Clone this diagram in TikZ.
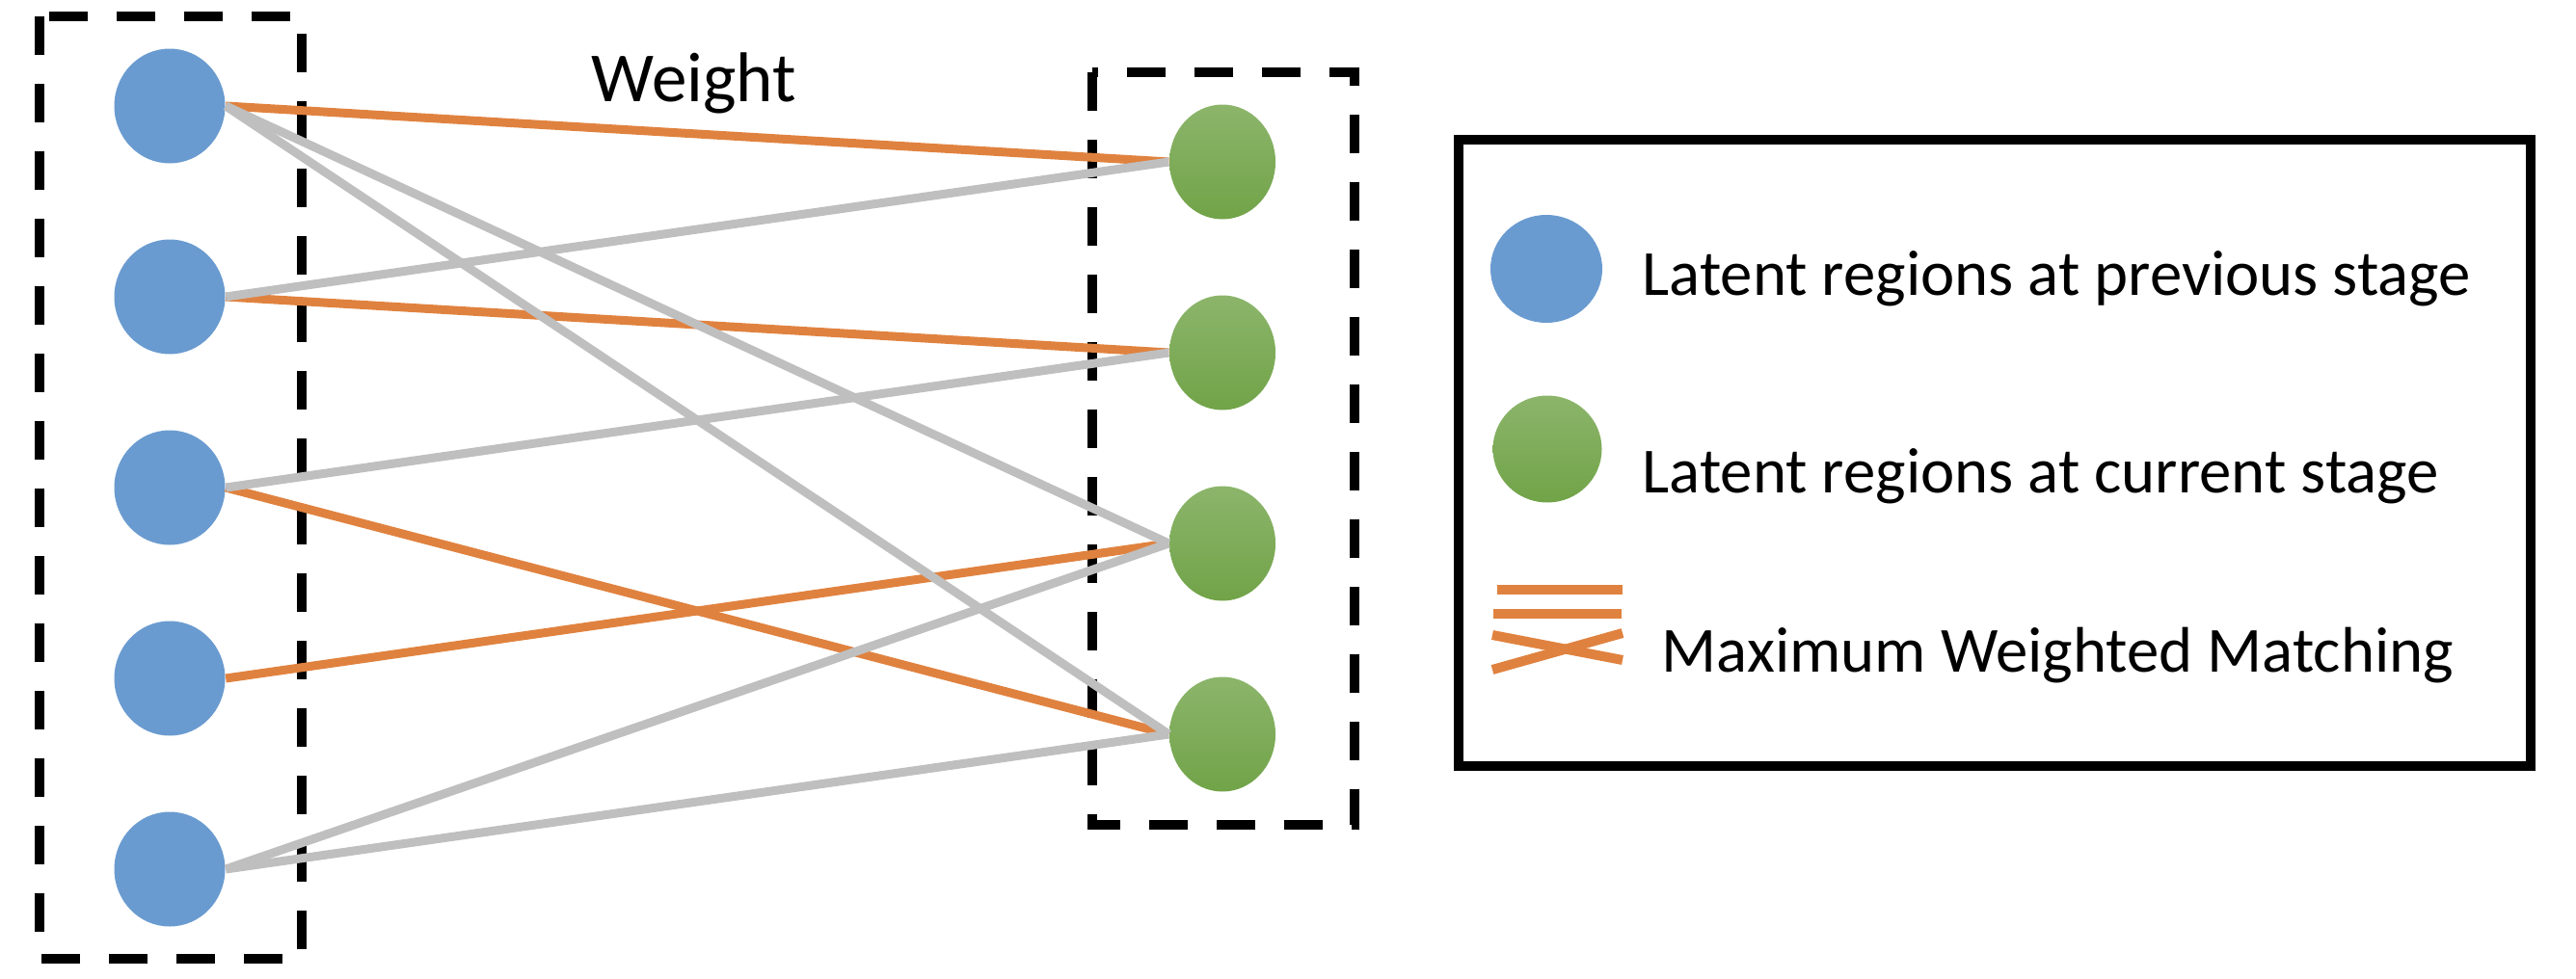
\documentclass[tikz,border=0pt]{standalone}
\usepackage{fontspec}
\setmainfont{Carlito}
\usetikzlibrary{positioning, shapes.geometric}

\definecolor{prevblue}{RGB}{106,155,208}
\definecolor{curgreentop}{RGB}{140,181,107}
\definecolor{curgreenbot}{RGB}{113,163,72}
\definecolor{matchorange}{RGB}{224,130,63}
\definecolor{weightgray}{RGB}{191,191,191}

\begin{document}
\begin{tikzpicture}[node distance=1.98cm,on grid,
    prev/.style={ellipse,fill=prevblue,minimum width=1.15cm,minimum height=1.19cm,inner sep=0pt},
    cur/.style={ellipse,top color=curgreentop,bottom color=curgreenbot,minimum width=1.10cm,minimum height=1.19cm,inner sep=0pt},
    match/.style={draw=matchorange,line width=0.09cm},
    weight/.style={draw=weightgray,line width=0.09cm},
    group/.style={draw,line width=0.1cm,dash pattern=on 0.4cm off 0.3cm},
    legtext/.style={anchor=base west,inner sep=0pt,font=\fontsize{19}{23}\selectfont}]
        \useasboundingbox (0,0) rectangle (26.72,-10.16);
        % previous stage
        \node[prev] (b_1) at (1.76,-1.10) {};
        \node[prev] (b_2) [below=of b_1] {};
        \node[prev] (b_3) [below=of b_2] {};
        \node[prev] (b_4) [below=of b_3] {};
        \node[prev] (b_5) [below=of b_4] {};
        % current stage
        \node[cur] (g_1) at (12.68,-1.68) {};
        \node[cur] (g_2) [below=of g_1] {};
        \node[cur] (g_3) [below=of g_2] {};
        \node[cur] (g_4) [below=of g_3] {};
        \draw[group] (0.41,-0.17) rectangle (3.13,-9.95);
        \draw[group] (11.33,-0.75) rectangle (14.05,-8.56);
        \node[anchor=base west,inner sep=0pt,font=\fontsize{20.8}{25}\selectfont] (w) at (6.13,-1.05) {Weight};
        \path
        (b_1.east) edge[match] (g_1.west)
        (b_2.east) edge[match] (g_2.west)
        (b_3.east) edge[match] (g_4.west)
        (b_4.east) edge[match] (g_3.west);
        \path
        (b_1.east) edge[weight] (g_3.west)
                   edge[weight] (g_4.west)
        (b_2.east) edge[weight] (g_1.west)
        (b_3.east) edge[weight] (g_2.west)
        (b_5.east) edge[weight] (g_3.west)
                   edge[weight] (g_4.west);
        % legend
        \draw[line width=0.1cm] (15.13,-1.45) rectangle (26.25,-7.95);
        \node[prev,minimum width=1.16cm,minimum height=1.12cm] (l_prev) at (16.04,-2.79) {};
        \node[cur,minimum width=1.13cm,minimum height=1.11cm] (l_cur) at (16.05,-4.66) {};
        \node[legtext] (t_prev) at (17.03,-3.06) {Latent regions at previous stage};
        \node[legtext] (t_cur) at (17.03,-5.11) {Latent regions at current stage};
        \node[legtext] (t_match) at (17.23,-6.97) {Maximum Weighted Matching};
        \draw[match,line width=0.1cm] (15.53,-6.12) -- (16.83,-6.12);
        \draw[match,line width=0.1cm] (15.49,-6.37) -- (16.82,-6.37);
        \draw[match,line width=0.1cm] (15.48,-6.59) -- (16.83,-6.85);
        \draw[match,line width=0.1cm] (15.48,-6.95) -- (16.83,-6.57);
      \end{tikzpicture}
\end{document}
